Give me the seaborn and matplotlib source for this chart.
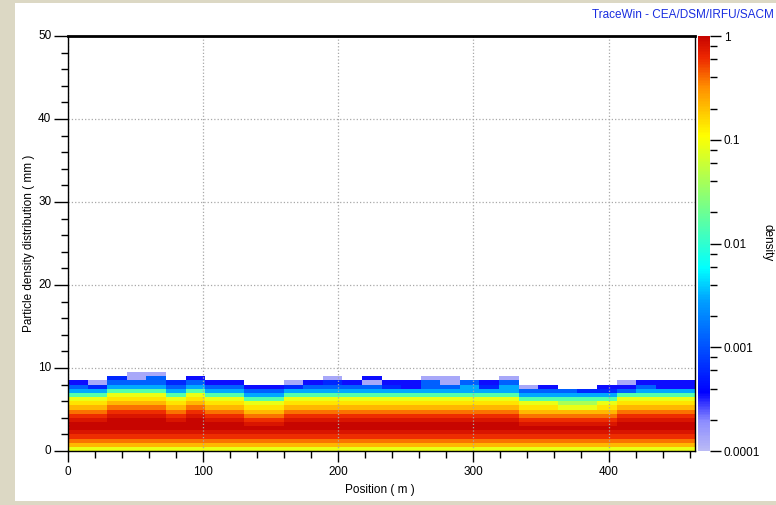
import numpy as np
import matplotlib
matplotlib.use('Agg')
import matplotlib.pyplot as plt
from matplotlib.colors import LinearSegmentedColormap, LogNorm
from matplotlib.patches import Rectangle
from matplotlib.ticker import FixedLocator, LogLocator, NullFormatter
import seaborn as sns

# bin sizes of the density map
pos_step = 14.5   # m per column
rad_step = 0.5    # mm per row

# colour level codes -> density
levels = {'L': 1.3e-4, 'B': 3.5e-4, 'b': 6e-4, 'c': 1.2e-3, 'C': 3e-3,
          'G': 0.015, 'y': 0.04, 'Y': 0.085, 'o': 0.14, 'O': 0.22,
          'r': 0.38, 'R': 0.6, 'D': 1.0, 'd': 0.8, '.': np.nan}

# one string per position bin, from r = 0 upward
columns = [
    "YOrRdDDdRrOoYGCcB",
    "YOrRdDDdRrOoYGCbL",
    "YOrRdDDDdRrOoYGCcb",
    "YOrRdDDDdRrOoYGCcLL",
    "YOrRdDDDdRrOoYGCccL",
    "YOrRdDDdRrOoYGCcb",
    "YOrRdDDDdRrOoYGCcB",
    "YOrRdDDdRrOoYGCcB",
    "YOrRdDDdRrOoYGCcB",
    "YOrRdDdRrOoYGCcB",
    "YOrRdDdRrOoYGCcB",
    "YOrRdDDdRrOoYGCbL",
    "YOrRdDDdRrOoYGCcB",
    "YOrRdDDdRrOoYGCcbL",
    "YOrRdDDdRrOoYGCcB",
    "YOrRdDDdRrOoYGCcLB",
    "YOrRdDDdRrOoYGCbB",
    "YOrRdDDdRrOoYGCBB",
    "YOrRdDDdRrOoYGCccL",
    "YOrRdDDdRrOoYGCcLL",
    "YOrRdDDdRrOoYGCCc",
    "YOrRdDDdRrOoYGCbB",
    "YOrRdDDdRrOoYGCCcL",
    "YOrRdDdRrOoYGCcL",
    "YOrRdDdRrOoYGCcB",
    "YOrRdDdRrOYyGCc",
    "YOrRdDdRrOYyGCb",
    "YOrRdDdRrOoYGCbB",
    "YOrRdDDdRrOoYGcBL",
    "YOrRdDDdRrOoYGCcB",
    "YOrRdDDdRrOoYGCBB",
    "YOrRdDDdRrOoYGCBB",
]

x_ticks = [0, 100, 200, 300, 400]
y_ticks = [0, 10, 20, 30, 40, 50]
cbar_ticks = [1e-4, 1e-3, 1e-2, 1e-1, 1]
cbar_labels = ['0.0001', '0.001', '0.01', '0.1', '1']

n_rows = max(len(c) for c in columns)
grid = np.full((n_rows, len(columns)), np.nan)
for j, col in enumerate(columns):
    for i, ch in enumerate(col):
        grid[i, j] = levels[ch]

stops = [(0.0, (0.73, 0.73, 0.96)), (0.07, (0.55, 0.55, 1.0)),
         (0.14, (0.0, 0.0, 1.0)), (0.25, (0.0, 0.32, 1.0)),
         (0.36, (0.0, 0.62, 1.0)), (0.44, (0.0, 1.0, 1.0)),
         (0.6, (0.5, 1.0, 0.5)), (0.76, (1.0, 1.0, 0.0)),
         (0.88, (1.0, 0.55, 0.0)), (0.95, (0.93, 0.15, 0.0)),
         (1.0, (0.78, 0.02, 0.0))]
cmap = LinearSegmentedColormap.from_list('tracewin', stops)

W, H = 776, 505
fig = plt.figure(figsize=(W / 100, H / 100), dpi=100, facecolor='#dcd8c4')
fig.patches.append(Rectangle((15 / W, 4 / H), 1, (501 - 3) / H,
                             transform=fig.transFigure, facecolor='white',
                             edgecolor='none', zorder=-10))

ax = fig.add_axes([68 / W, (H - 451) / H, 627 / W, 415 / H])
cax = fig.add_axes([698 / W, (H - 451) / H, 12 / W, 415 / H])

sns.heatmap(grid, ax=ax, cbar_ax=cax, cmap=cmap,
            norm=LogNorm(vmin=1e-4, vmax=1), linewidths=0)

ax.set_xlim(0, 464 / pos_step)
ax.set_ylim(0, 50 / rad_step)
for s in ax.spines.values():
    s.set_visible(True)
    s.set_color('black')
    s.set_linewidth(1)
    s.set_zorder(4)
ax.spines['top'].set_linewidth(2)

ax.xaxis.set_major_locator(FixedLocator([v / pos_step for v in x_ticks]))
ax.xaxis.set_minor_locator(FixedLocator([v / pos_step for v in range(0, 465, 20)]))
ax.yaxis.set_major_locator(FixedLocator([v / rad_step for v in y_ticks]))
ax.yaxis.set_minor_locator(FixedLocator([v / rad_step for v in range(0, 51, 2)]))
ax.set_xticklabels([str(v) for v in x_ticks], rotation=0)
ax.set_yticklabels([str(v) for v in y_ticks], rotation=0)
ax.tick_params(axis='x', which='major', length=8, width=1, pad=3, labelsize=8.5)
ax.tick_params(axis='x', which='minor', length=5, width=1)
ax.tick_params(axis='y', which='major', length=10, width=1, pad=2, labelsize=8.5)
ax.tick_params(axis='y', which='minor', length=5, width=1)
for lab in ax.get_xticklabels() + ax.get_yticklabels():
    lab.set_family('Liberation Sans')

ax.set_axisbelow(False)
ax.grid(True, which='major', color='#a8a8a8', linestyle=':', linewidth=0.9)
ax.set_xlabel('')
ax.set_ylabel('')

cbar = ax.collections[0].colorbar
cbar.outline.set_visible(False)
cbar.set_ticks(cbar_ticks)
cbar.set_ticklabels(cbar_labels)
cax.yaxis.set_minor_locator(LogLocator(base=10, subs=(2, 4, 6, 8)))
cax.yaxis.set_minor_formatter(NullFormatter())
cax.tick_params(which='major', length=8, width=1, labelsize=8.5, pad=2)
cax.tick_params(which='minor', length=5, width=1)
for lab in cax.get_yticklabels():
    lab.set_family('Liberation Sans')

fig.text(380 / W, 1 - 490 / H, 'Position ( m )', ha='center', va='center',
         fontsize=8.5, family='Liberation Sans')
fig.text(29 / W, 1 - 243 / H, 'Particle density distribution ( mm )',
         ha='center', va='center', rotation=90, fontsize=8.5,
         family='Liberation Sans')
fig.text(768 / W, 1 - 243 / H, 'density', ha='center', va='center',
         rotation=270, fontsize=8.5, family='Liberation Sans')
fig.text(774 / W, 1 - 15 / H, 'TraceWin - CEA/DSM/IRFU/SACM', ha='right',
         va='center', fontsize=8.5, color='#1a2ee0', family='Liberation Sans')

fig.savefig('out.png', dpi=100)
